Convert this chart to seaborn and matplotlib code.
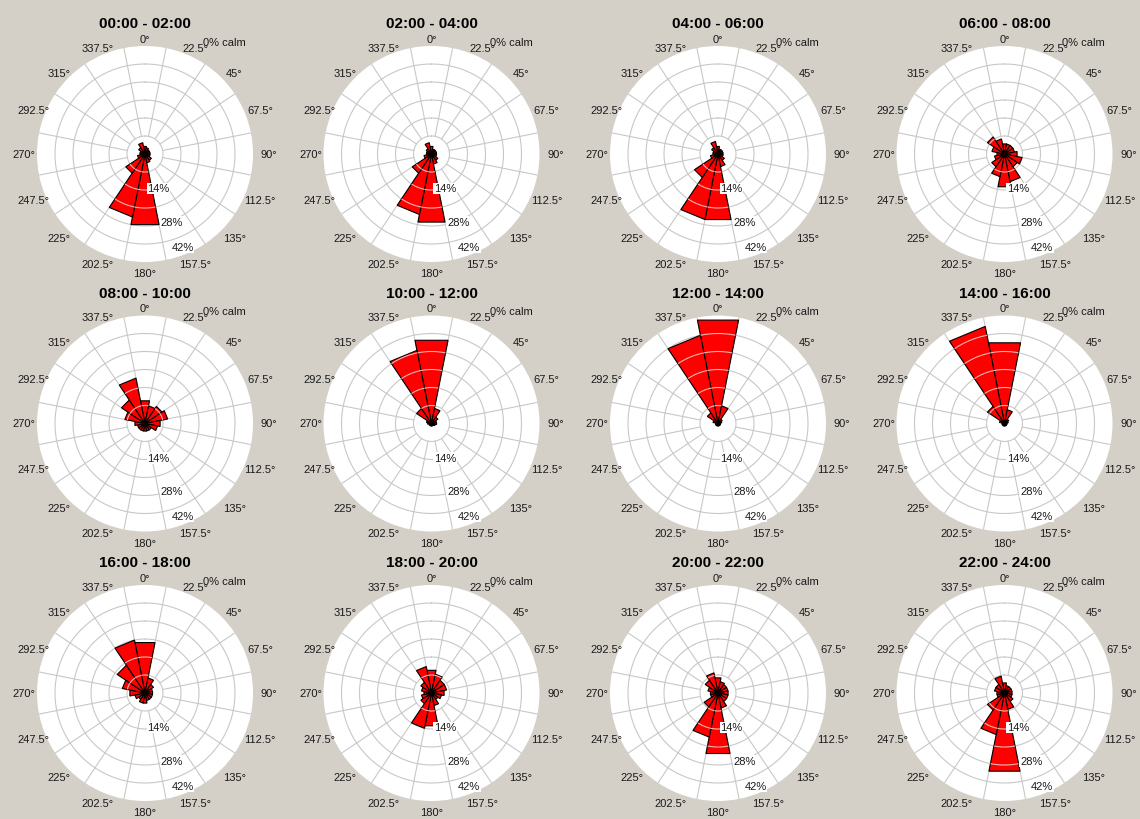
import numpy as np
import matplotlib
matplotlib.use("Agg")
import matplotlib.pyplot as plt
import seaborn as sns

sns.set_theme(style="white")
plt.rcParams["font.family"] = ["Liberation Sans", "DejaVu Sans"]

# Wind direction sectors (degrees, clockwise from north)
directions = [0, 22.5, 45, 67.5, 90, 112.5, 135, 157.5,
              180, 202.5, 225, 247.5, 270, 292.5, 315, 337.5]

# Frequency (%) per direction sector for each two-hour period
freq_00_02 = [3, 2.5, 2, 2, 2, 2, 3, 3.5, 28, 25, 9, 3, 2, 2, 3, 4.5]
freq_02_04 = [3, 2, 2, 2, 2, 2, 3, 4, 27, 24, 9, 3, 2, 2, 2.5, 4.5]
freq_04_06 = [3, 2, 2, 2, 2, 2, 3, 5, 26, 26, 11, 3, 2, 2, 3, 5]
freq_06_08 = [4, 4, 4, 4, 5, 7, 6, 11, 13, 9, 6, 4, 3, 5, 8, 6]
freq_08_10 = [9, 7, 8, 9, 6, 5, 3, 3, 3, 3, 3, 3, 4, 8, 11, 18]
freq_10_12 = [33, 6, 3, 2, 2, 1.5, 1, 1, 1, 1, 1, 1, 1.5, 2, 7, 29]
freq_12_14 = [41, 7, 2, 1.5, 1, 1, 1, 1, 1, 1, 1, 1, 1, 2, 5, 35]
freq_14_16 = [32, 5.5, 2, 1.5, 1, 1, 1, 1, 1, 1, 1, 1, 1, 2, 8, 38.5]
freq_16_18 = [20, 6, 4, 3, 3, 3, 3, 3, 4, 4, 3, 4, 6, 9, 13, 21]
freq_18_20 = [9, 7.5, 6, 6, 5, 4, 3, 5, 13, 14, 5, 4, 3, 4, 5, 10.5]
freq_20_22 = [6, 4.5, 4, 4, 4, 4, 4, 6, 24, 17.5, 6.5, 3, 3, 4, 6, 8]
freq_22_24 = [4, 3, 3, 3, 3, 3, 4, 6.5, 31, 16.5, 8, 3, 3, 4, 4, 6.7]

periods = ["00:00 - 02:00", "02:00 - 04:00", "04:00 - 06:00", "06:00 - 08:00",
           "08:00 - 10:00", "10:00 - 12:00", "12:00 - 14:00", "14:00 - 16:00",
           "16:00 - 18:00", "18:00 - 20:00", "20:00 - 22:00", "22:00 - 24:00"]
frequencies = [freq_00_02, freq_02_04, freq_04_06, freq_06_08,
               freq_08_10, freq_10_12, freq_12_14, freq_14_16,
               freq_16_18, freq_18_20, freq_20_22, freq_22_24]

calm_pct = [0] * 12
ring_step = 7
ring_max = 42
ring_labels = [14, 28, 42]
ring_label_pos = [(158.5, 14.4), (158.5, 28.4), (158.0, 39.0)]

W, H = 1140, 820
BG = "#d4d0c8"
fig = plt.figure(figsize=(W / 100, H / 100), dpi=100, facecolor=BG)

col_x = [145, 431.5, 718, 1004.5]
row_y = [155, 424.5, 694]
R = 108  # pixel radius of each rose
sector = 22.5
thetas_full = np.linspace(0, 2 * np.pi, 361)

for i, (period, vals) in enumerate(zip(periods, frequencies)):
    cx = col_x[i % 4]
    cy = row_y[i // 4]
    ax = fig.add_axes([(cx - R) / W, 1 - (cy + R) / H, 2 * R / W, 2 * R / H],
                      projection="polar")
    ax.set_theta_zero_location("N")
    ax.set_theta_direction(-1)
    ax.set_ylim(0, ring_max)
    ax.set_xticks([])
    ax.set_yticks([])
    ax.grid(False)
    ax.spines["polar"].set_visible(False)
    ax.set_facecolor("white")

    rings = np.arange(ring_step, ring_max, ring_step)
    # concentric rings and sector spokes under the bars
    for rr in rings:
        ax.plot(thetas_full, np.full_like(thetas_full, rr), color="#c8c8c8",
                lw=0.8, zorder=1)
    for d in directions:
        t = np.deg2rad(d + sector / 2)
        ax.plot([t, t], [ring_step, ring_max], color="#c8c8c8", lw=0.8, zorder=1)

    # wedge-shaped bars with straight outer edges
    for d, v in zip(directions, vals):
        t1 = np.deg2rad(d - sector / 2)
        t2 = np.deg2rad(d + sector / 2)
        poly = ax.fill([0, t1, t2], [0, v, v], facecolor="#ff0000",
                       edgecolor="black", lw=0.8, zorder=2)[0]
        inner = rings[rings < v]
        if len(inner):
            ts = np.linspace(t1, t2, 30)
            xs, ys = [], []
            for rr in inner:
                xs += list(ts) + [np.nan]
                ys += [rr] * len(ts) + [np.nan]
            ln, = ax.plot(xs, ys, color="#f2b4b4", lw=0.8, zorder=3)
            ln.set_clip_path(poly)

    # direction labels
    for d in directions:
        s = np.sin(np.deg2rad(d))
        c = np.cos(np.deg2rad(d))
        dx = 5 if s > 0.01 else (-2 if s < -0.01 else 0)
        dy = -4 * max(c, 0)
        ax.annotate(f"{d:g}°", xy=(np.deg2rad(d), 46.3), xytext=(dx, dy),
                    textcoords="offset pixels", ha="center", va="center",
                    fontsize=8, color="#1a1a1a", annotation_clip=False)

    # percentage labels
    for lab, (ang, rr) in zip(ring_labels, ring_label_pos):
        ax.text(np.deg2rad(ang), rr, f"{lab}%", ha="center", va="center",
                fontsize=8, color="#1a1a1a", zorder=5,
                bbox=dict(facecolor="white", edgecolor="none", pad=0.6))

    fig.text((cx + 58) / W, 1 - (cy - 112) / H, f"{calm_pct[i]}% calm",
             ha="left", va="center", fontsize=8, color="#1a1a1a")
    fig.text(cx / W, 1 - (cy - 131) / H, period, ha="center", va="center",
             fontsize=11, fontweight="bold", color="black")

fig.savefig("out.png", dpi=100, facecolor=BG)
